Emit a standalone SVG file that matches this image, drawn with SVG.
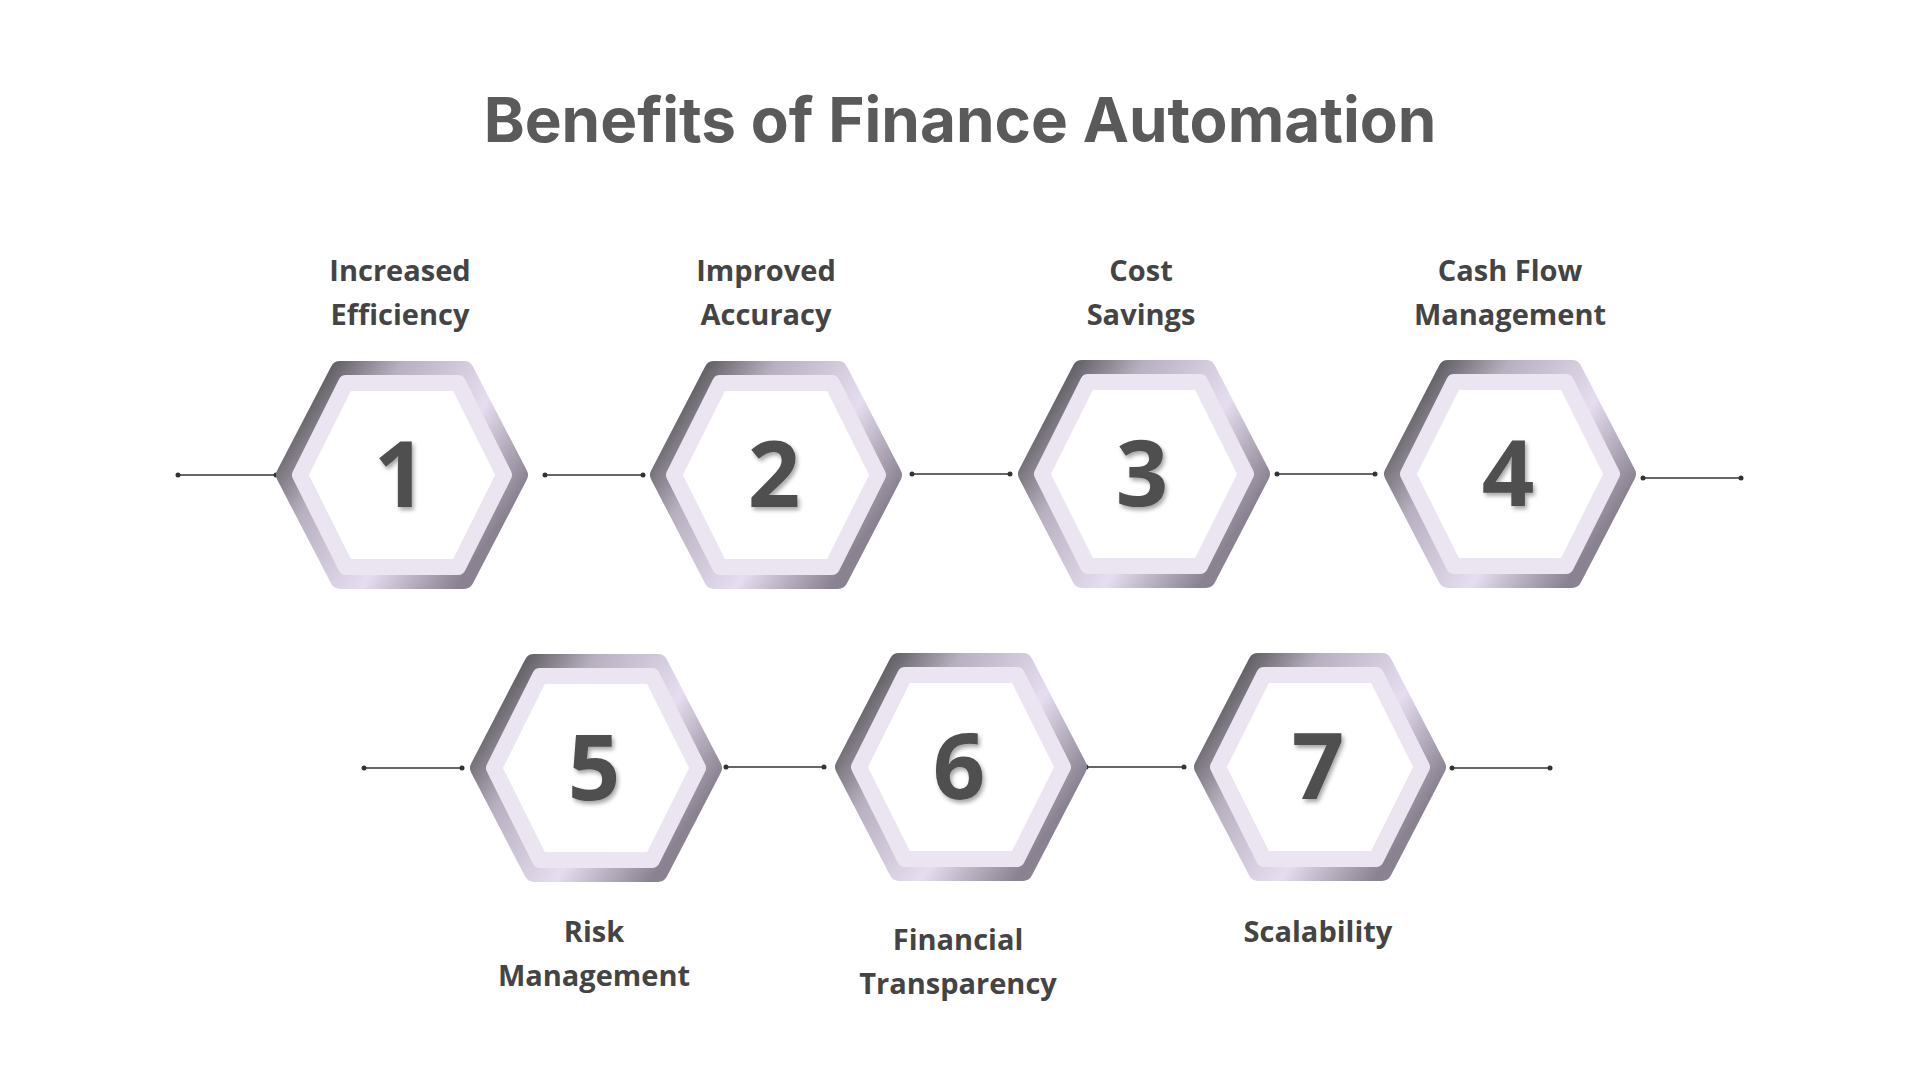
<svg xmlns="http://www.w3.org/2000/svg" xmlns:xlink="http://www.w3.org/1999/xlink" width="1920" height="1080" viewBox="0 0 1920 1080">
<defs>
<linearGradient id="rim" x1="0" y1="0" x2="1" y2="0.6">
<stop offset="0" stop-color="#2e2e2e"/>
<stop offset="0.35" stop-color="#b8b0c0"/>
<stop offset="0.7" stop-color="#e6def0"/>
<stop offset="1" stop-color="#8a8290"/>
</linearGradient>
<filter id="sh" x="-20%" y="-20%" width="140%" height="140%"><feDropShadow dx="2" dy="3" stdDeviation="2" flood-color="#000" flood-opacity="0.35"/></filter>
<g id="hex">
<polygon points="-62,-104 62,-104 116,0 62,104 -62,104 -116,0" fill="url(#rim)" stroke="url(#rim)" stroke-width="20" stroke-linejoin="round"/>
<polygon points="-56,-92 56,-92 102,0 56,92 -56,92 -102,0" fill="#ffffff" stroke="#ebe5f2" stroke-width="16" stroke-linejoin="round"/>
</g>
<marker id="dot" markerWidth="6" markerHeight="6" refX="3" refY="3" markerUnits="userSpaceOnUse"><circle cx="3" cy="3" r="2.5" fill="#333"/></marker>
</defs>
<style>
.lbl{font-family:"Open Sans","Noto Sans",sans-serif;font-weight:700;font-size:29px;fill:#444;text-anchor:middle}
.num{font-family:"Open Sans","Noto Sans",sans-serif;font-weight:700;font-size:92px;fill:#505050;text-anchor:middle}
.title{font-family:Inter,"Noto Sans",sans-serif;font-weight:700;font-size:62px;fill:#5a5a5a;text-anchor:middle}
.con{stroke:#333;stroke-width:1.5;marker-start:url(#dot);marker-end:url(#dot)}
</style>
<rect width="1920" height="1080" fill="#ffffff"/>
<text class="title" x="960" y="142">Benefits of Finance Automation</text>
<g id="connectors">
<line class="con" x1="178" y1="475" x2="276" y2="475"/>
<line class="con" x1="545" y1="475" x2="643" y2="475"/>
<line class="con" x1="912" y1="474" x2="1010" y2="474"/>
<line class="con" x1="1277" y1="474" x2="1375" y2="474"/>
<line class="con" x1="1643" y1="478" x2="1741" y2="478"/>
<line class="con" x1="364" y1="768" x2="462" y2="768"/>
<line class="con" x1="726" y1="767" x2="824" y2="767"/>
<line class="con" x1="1086" y1="767" x2="1184" y2="767"/>
<line class="con" x1="1452" y1="768" x2="1550" y2="768"/>
</g>
<g id="n1"><use xlink:href="#hex" x="402" y="475"/><text class="num" x="400" y="507" filter="url(#sh)">1</text><text class="lbl" x="400" y="281">Increased</text><text class="lbl" x="400" y="325">Efficiency</text></g>
<g id="n2"><use xlink:href="#hex" x="776" y="475"/><text class="num" x="774" y="507" filter="url(#sh)">2</text><text class="lbl" x="766" y="281">Improved</text><text class="lbl" x="766" y="325">Accuracy</text></g>
<g id="n3"><use xlink:href="#hex" x="1144" y="474"/><text class="num" x="1142" y="506" filter="url(#sh)">3</text><text class="lbl" x="1141" y="281">Cost</text><text class="lbl" x="1141" y="325">Savings</text></g>
<g id="n4"><use xlink:href="#hex" x="1510" y="474"/><text class="num" x="1508" y="506" filter="url(#sh)">4</text><text class="lbl" x="1510" y="281">Cash Flow</text><text class="lbl" x="1510" y="325">Management</text></g>
<g id="n5"><use xlink:href="#hex" x="596" y="768"/><text class="num" x="594" y="800" filter="url(#sh)">5</text><text class="lbl" x="594" y="942">Risk</text><text class="lbl" x="594" y="986">Management</text></g>
<g id="n6"><use xlink:href="#hex" x="961" y="767"/><text class="num" x="959" y="799" filter="url(#sh)">6</text><text class="lbl" x="958" y="950">Financial</text><text class="lbl" x="958" y="994">Transparency</text></g>
<g id="n7"><use xlink:href="#hex" x="1320" y="767"/><text class="num" x="1318" y="799" filter="url(#sh)">7</text><text class="lbl" x="1318" y="942">Scalability</text></g>
</svg>
